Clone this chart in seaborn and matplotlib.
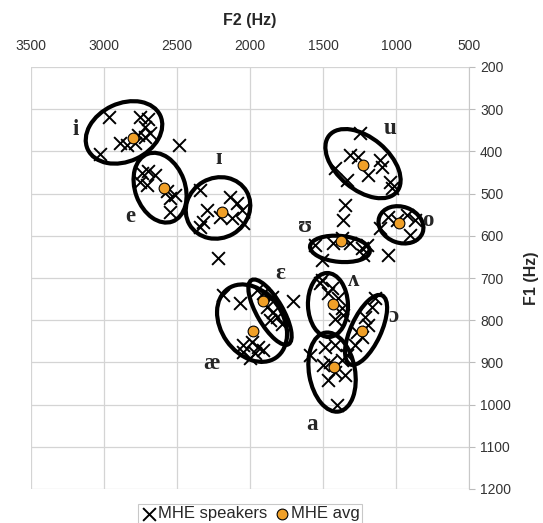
import numpy as np
import pandas as pd
import matplotlib
matplotlib.use("Agg")
import matplotlib.pyplot as plt
import seaborn as sns
from matplotlib.patches import Ellipse
from matplotlib.transforms import Affine2D, ScaledTranslation

# ---------------- data ----------------
vowels = ["i", "e", "ɪ", "u", "o", "ʊ", "ɛ", "æ", "ʌ", "ɔ", "a"]
avg_f2 = [2800, 2590, 2190, 1224, 977, 1377, 1909, 1977, 1429, 1235, 1425]
avg_f1 = [368, 486, 543, 432, 570, 612, 754, 826, 762, 826, 912]

# ellipse centres (Hz)
ell_f2 = [2863, 2616, 2219, 1226, 966, 1384, 1863, 1986, 1466, 1205, 1438]
ell_f1 = [355, 486, 534, 429, 574, 631, 781, 807, 764, 823, 923]

# vowel label anchors (Hz)
label_f2 = [3192, 2822, 2217, 1041, 779, 1623, 1795, 2263, 1292, 1018, 1577]
label_f1 = [349, 555, 416, 345, 563, 578, 689, 902, 705, 792, 1048]

spk_f2 = [
    2964, 2753, 2697, 2719, 2685, 2890, 2845, 2788, 3027, 2719, 2765, 2484,
    2742, 2697, 2651, 2753, 2708, 2571, 2514, 2548, 2548,
    2342, 2137, 2297, 2091, 2057, 2205, 2320, 2125, 2046, 2342, 2217,
    1247, 1315, 1418, 1258, 1190, 1110, 1098, 1338, 1041, 1029, 1349, 1361,
    1053, 927, 870, 1110, 904, 995, 1053,
    1555, 1509, 1429, 1315, 1235, 1201, 1372, 1224,
    1954, 1909, 1851, 1886, 1840, 1817, 1783, 1863, 1708,
    2068, 2183, 2046, 1988, 1943, 1966, 1909, 2046, 2000,
    1509, 1440, 1463, 1395, 1372, 1418, 1361, 1521,
    1144, 1167, 1212, 1269, 1235, 1281, 1190,
    1589, 1486, 1418, 1498, 1452, 1372, 1418, 1349, 1464, 1406, 1338,
]
spk_f1 = [
    318, 318, 323, 341, 357, 381, 385, 381, 405, 367, 361, 385,
    452, 446, 456, 472, 480, 495, 503, 511, 543,
    491, 507, 539, 523, 539, 555, 567, 559, 570, 578, 653,
    357, 409, 440, 413, 456, 420, 436, 468, 472, 487, 527, 563,
    555, 551, 563, 582, 598, 563, 645,
    622, 657, 618, 618, 630, 622, 606, 645,
    728, 736, 744, 768, 780, 792, 808, 800, 754,
    760, 740, 859, 851, 863, 878, 871, 875, 890,
    705, 724, 736, 748, 772, 796, 788, 713,
    748, 768, 792, 827, 839, 859, 811,
    882, 863, 859, 906, 898, 894, 922, 930, 942, 1001, 882,
]

x_ticks = [3500, 3000, 2500, 2000, 1500, 1000, 500]
y_ticks = [200, 300, 400, 500, 600, 700, 800, 900, 1000, 1100, 1200]

# ellipse shapes (semi-axes in pixels, screen angle in degrees)
ell_a = [40, 36, 33, 44, 23, 30, 37, 42, 32, 38, 40]
ell_b = [29, 25, 30, 26, 18, 13, 13, 31, 20, 15, 23]
ell_ang = [25, -70, 30, -40, -20, -5, -60, -55, 92, 65, 100]

spk = pd.DataFrame({"F2": spk_f2, "F1": spk_f1})
avg = pd.DataFrame({"F2": avg_f2, "F1": avg_f1, "vowel": vowels})

# ---------------- plot ----------------
sns.set_style("white")
plt.rcParams["font.family"] = ["Liberation Sans", "DejaVu Sans"]

fig = plt.figure(figsize=(5.43, 5.23), dpi=100)
ax = fig.add_axes([31 / 543, 1 - 489 / 523, (469 - 31) / 543, (489 - 67) / 523])

ax.set_xlim(3500, 500)
ax.set_ylim(1200, 200)
ax.set_xticks(x_ticks)
ax.set_yticks(y_ticks)
ax.grid(True, color="#d4d4d4", linewidth=0.9)
ax.set_axisbelow(True)
for s in ax.spines.values():
    s.set_visible(False)
ax.spines["right"].set_visible(True)
ax.spines["right"].set_color("#c8c8c8")

ax.xaxis.tick_top()
ax.xaxis.set_label_position("top")
ax.yaxis.tick_right()
ax.yaxis.set_label_position("right")
ax.tick_params(axis="x", length=0, pad=10, labelsize=10, labelcolor="#333333")
ax.tick_params(axis="y", length=4, color="#bbbbbb", pad=4, labelsize=10, labelcolor="#333333")

sns.scatterplot(data=spk, x="F2", y="F1", marker="x", color="black", s=85,
                linewidth=1.4, ax=ax, label="MHE speakers", zorder=3)

fig.canvas.draw()
for cx, cy, a, b, ang in zip(ell_f2, ell_f1, ell_a, ell_b, ell_ang):
    tr = Affine2D() + ScaledTranslation(cx, cy, ax.transData)
    e = Ellipse((0, 0), 2 * a, 2 * b, angle=ang, fill=False, edgecolor="black",
                linewidth=3.0, transform=tr, zorder=4)
    ax.add_patch(e)

sns.scatterplot(data=avg, x="F2", y="F1", marker="o", color="#F0A028", s=60,
                edgecolor="black", linewidth=0.8, ax=ax, label="MHE avg", zorder=5)

for v, lx, ly in zip(vowels, label_f2, label_f1):
    ax.text(lx, ly, v, fontsize=16.5, fontweight="bold", ha="center", va="center",
            family=["Liberation Serif", "DejaVu Serif"], zorder=6)

ax.set_xlabel("F2 (Hz)", fontsize=11.5, fontweight="bold", labelpad=10)
ax.set_ylabel("F1 (Hz)", fontsize=11.5, fontweight="bold", labelpad=9, rotation=90)

leg = ax.legend(loc="upper center", bbox_to_anchor=(0.5, -0.035), ncol=2,
                frameon=True, fancybox=False, edgecolor="#bbbbbb", fontsize=12,
                handletextpad=0.05, columnspacing=0.4, borderpad=0.15,
                handlelength=1.0, borderaxespad=0)
leg.get_frame().set_linewidth(0.8)

fig.savefig("out.png", dpi=100)
